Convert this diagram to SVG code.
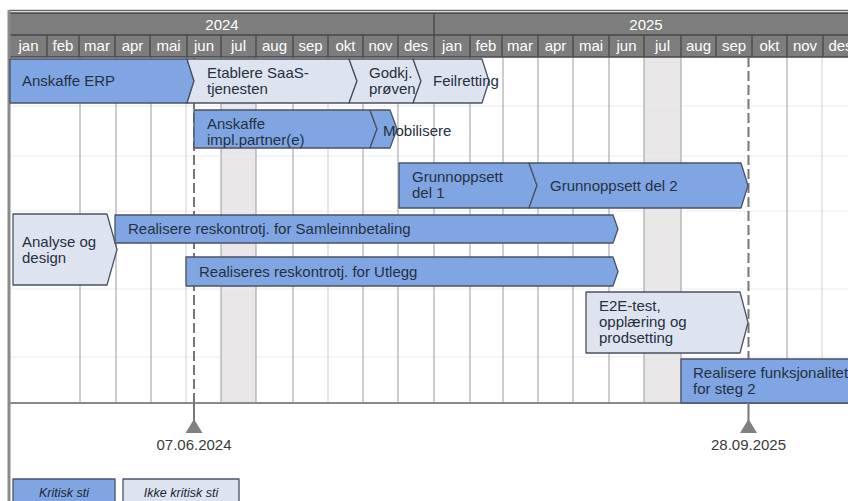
<svg xmlns="http://www.w3.org/2000/svg" width="848" height="501" viewBox="0 0 848 501">
  <style>
    text { font-family: "Liberation Sans", Arial, sans-serif; font-size: 15px; fill: #263040; }
    .hdr { fill: #7d7d7d; }
    .hdrline { stroke: #474747; stroke-width: 1.3; }
    .hdrtxt { fill: #ffffff; text-anchor: middle; font-size: 15px; }
    .vline { stroke: #9c9c9c; stroke-width: 1; }
    .vfaint { stroke: #cfcfcf; stroke-width: 1; }
    .hline { stroke: #ececec; stroke-width: 1; }
    .shade { fill: #e8e6e6; }
    .crit { fill: #7fa6e3; stroke: #4a5266; stroke-width: 1.3; stroke-linejoin: round; }
    .noncrit { fill: #dde4ef; stroke: #4a5266; stroke-width: 1.3; stroke-linejoin: round; }
    .dash { stroke: #767676; stroke-width: 2; stroke-dasharray: 10 4; fill: none; }
    .stem { stroke: #767676; stroke-width: 2; }
    .tri { fill: #808080; }
    .date { fill: #3a3a3a; text-anchor: middle; font-size: 15px; }
    .legend { font-style: italic; font-size: 12.5px; text-anchor: middle; fill: #1f2533; }
  </style>

  <rect width="848" height="501" fill="#ffffff"/>

  <!-- holiday columns (July) -->
  <rect class="shade" x="221" y="57" width="35" height="346"/>
  <rect class="shade" x="644" y="57" width="37" height="346"/>

  <!-- faint row separators -->
  <g>
    <line class="hline" x1="10" y1="106" x2="848" y2="106"/>
    <line class="hline" x1="10" y1="156" x2="848" y2="156"/>
    <line class="hline" x1="10" y1="211" x2="848" y2="211"/>
    <line class="hline" x1="10" y1="289" x2="848" y2="289"/>
    <line class="hline" x1="10" y1="357" x2="848" y2="357"/>
  </g>

  <!-- month grid in the body -->
  <g>
    <line class="vline" x1="80" y1="57" x2="80" y2="403"/>
    <line class="vline" x1="116" y1="57" x2="116" y2="403"/>
    <line class="vline" x1="151" y1="57" x2="151" y2="403"/>
    <line class="vfaint" x1="186" y1="57" x2="186" y2="403"/>
    <line class="vline" x1="221" y1="57" x2="221" y2="403"/>
    <line class="vline" x1="256" y1="57" x2="256" y2="403"/>
    <line class="vline" x1="293" y1="57" x2="293" y2="403"/>
    <line class="vfaint" x1="328" y1="57" x2="328" y2="403"/>
    <line class="vline" x1="363" y1="57" x2="363" y2="403"/>
    <line class="vline" x1="398" y1="57" x2="398" y2="403"/>
    <line class="vline" x1="434" y1="57" x2="434" y2="403"/>
    <line class="vline" x1="470" y1="57" x2="470" y2="403"/>
    <line class="vline" x1="503" y1="57" x2="503" y2="403"/>
    <line class="vline" x1="538" y1="57" x2="538" y2="403"/>
    <line class="vline" x1="573" y1="57" x2="573" y2="403"/>
    <line class="vline" x1="609" y1="57" x2="609" y2="403"/>
    <line class="vline" x1="644" y1="57" x2="644" y2="403"/>
    <line class="vline" x1="681" y1="57" x2="681" y2="403"/>
    <line class="vline" x1="787" y1="57" x2="787" y2="403"/>
    <line class="vfaint" x1="822" y1="57" x2="822" y2="403"/>
  </g>

  <!-- timeline header -->
  <g id="header">
    <line x1="9" y1="10.5" x2="848" y2="10.5" stroke="#6a6a6a" stroke-width="1.5"/>
    <rect class="hdr" x="9" y="13" width="839" height="44"/>
    <line class="hdrline" x1="9" y1="13" x2="848" y2="13"/>
    <line class="hdrline" x1="9" y1="35" x2="848" y2="35"/>
    <line class="hdrline" x1="9" y1="57" x2="848" y2="57"/>
    <line class="hdrline" x1="434" y1="13" x2="434" y2="57"/>
    <text class="hdrtxt" x="222" y="30">2024</text>
    <text class="hdrtxt" x="646" y="30">2025</text>
    <g class="hdrline">
      <line x1="47" y1="35" x2="47" y2="57"/>
      <line x1="79" y1="35" x2="79" y2="57"/>
      <line x1="115" y1="35" x2="115" y2="57"/>
      <line x1="150" y1="35" x2="150" y2="57"/>
      <line x1="187" y1="35" x2="187" y2="57"/>
      <line x1="221" y1="35" x2="221" y2="57"/>
      <line x1="256" y1="35" x2="256" y2="57"/>
      <line x1="293" y1="35" x2="293" y2="57"/>
      <line x1="328" y1="35" x2="328" y2="57"/>
      <line x1="363" y1="35" x2="363" y2="57"/>
      <line x1="398" y1="35" x2="398" y2="57"/>
      <line x1="470" y1="35" x2="470" y2="57"/>
      <line x1="502" y1="35" x2="502" y2="57"/>
      <line x1="538" y1="35" x2="538" y2="57"/>
      <line x1="573" y1="35" x2="573" y2="57"/>
      <line x1="609" y1="35" x2="609" y2="57"/>
      <line x1="644" y1="35" x2="644" y2="57"/>
      <line x1="681" y1="35" x2="681" y2="57"/>
      <line x1="716" y1="35" x2="716" y2="57"/>
      <line x1="752" y1="35" x2="752" y2="57"/>
      <line x1="787" y1="35" x2="787" y2="57"/>
      <line x1="823" y1="35" x2="823" y2="57"/>
    </g>
    <g>
      <text class="hdrtxt" x="28.5" y="51">jan</text>
      <text class="hdrtxt" x="63" y="51">feb</text>
      <text class="hdrtxt" x="97" y="51">mar</text>
      <text class="hdrtxt" x="132.5" y="51">apr</text>
      <text class="hdrtxt" x="168.5" y="51">mai</text>
      <text class="hdrtxt" x="204" y="51">jun</text>
      <text class="hdrtxt" x="238.5" y="51">jul</text>
      <text class="hdrtxt" x="274.5" y="51">aug</text>
      <text class="hdrtxt" x="310.5" y="51">sep</text>
      <text class="hdrtxt" x="345.5" y="51">okt</text>
      <text class="hdrtxt" x="380.5" y="51">nov</text>
      <text class="hdrtxt" x="416" y="51">des</text>
      <text class="hdrtxt" x="452" y="51">jan</text>
      <text class="hdrtxt" x="486" y="51">feb</text>
      <text class="hdrtxt" x="520" y="51">mar</text>
      <text class="hdrtxt" x="555.5" y="51">apr</text>
      <text class="hdrtxt" x="591" y="51">mai</text>
      <text class="hdrtxt" x="626.5" y="51">jun</text>
      <text class="hdrtxt" x="662.5" y="51">jul</text>
      <text class="hdrtxt" x="698.5" y="51">aug</text>
      <text class="hdrtxt" x="734" y="51">sep</text>
      <text class="hdrtxt" x="769.5" y="51">okt</text>
      <text class="hdrtxt" x="805" y="51">nov</text>
      <text class="hdrtxt" x="840.5" y="51">des</text>
    </g>
  </g>

  <!-- milestone markers -->
  <g id="milestones">
    <line class="dash" x1="194" y1="57" x2="194" y2="403"/>
    <line class="dash" x1="748.5" y1="57" x2="748.5" y2="403"/>
  </g>

  <!-- chart bottom and left frame -->
  <line x1="9" y1="403" x2="848" y2="403" stroke="#8a8a8a" stroke-width="2"/>
  <line x1="9" y1="10" x2="9" y2="501" stroke="#8a8a8a" stroke-width="3"/>

  <!-- activities -->
  <g id="anskaffe-erp">
    <path class="crit" d="M10,59 H187 L194,81 L187,103 H10 Z"/>
    <text x="22" y="86">Anskaffe ERP</text>
  </g>
  <g id="etablere-saas">
    <path class="noncrit" d="M187,59 H349 L357,81 L349,103 H187 L194,81 Z"/>
    <text x="207" y="78">Etablere SaaS-</text>
    <text x="207" y="94">tjenesten</text>
  </g>
  <g id="godkj-proven">
    <path class="noncrit" d="M349,59 H413 L421,81 L413,103 H349 L357,81 Z"/>
    <text x="369" y="78">Godkj.</text>
    <text x="369" y="94">prøven</text>
  </g>
  <g id="feilretting">
    <path class="noncrit" d="M413,59 H482 L489,81 L482,103 H413 L421,81 Z"/>
    <text x="433" y="86">Feilretting</text>
  </g>

  <g id="anskaffe-impl">
    <path class="crit" d="M194,110 H370 L377,129 L370,148 H194 Z"/>
    <text x="207" y="129">Anskaffe</text>
    <text x="207" y="145">impl.partner(e)</text>
  </g>
  <g id="mobilisere">
    <path class="crit" d="M370,110 H390 L397,129 L390,148 H370 L377,129 Z"/>
    <text x="383" y="136">Mobilisere</text>
  </g>

  <g id="grunnoppsett-1">
    <path class="crit" d="M399,163 H529 L537,185.5 L529,208 H399 Z"/>
    <text x="412" y="182">Grunnoppsett</text>
    <text x="412" y="198">del 1</text>
  </g>
  <g id="grunnoppsett-2">
    <path class="crit" d="M529,163 H741 L748,185.5 L741,208 H529 L537,185.5 Z"/>
    <text x="550" y="191">Grunnoppsett del 2</text>
  </g>

  <g id="analyse-design">
    <path class="noncrit" d="M13,214 H107 L117,249.5 L107,285 H13 Z"/>
    <text x="22" y="247">Analyse og</text>
    <text x="22" y="263">design</text>
  </g>
  <g id="samleinnbetaling">
    <path class="crit" d="M115,215 H613 L618,229 L613,243 H115 Z"/>
    <text x="128" y="234">Realisere reskontrotj. for Samleinnbetaling</text>
  </g>
  <g id="utlegg">
    <path class="crit" d="M186,257 H613 L618,271.5 L613,286 H186 Z"/>
    <text x="199" y="277">Realiseres reskontrotj. for Utlegg</text>
  </g>

  <g id="e2e-test">
    <path class="noncrit" d="M586,292 H740 L748,322.5 L740,353 H586 Z"/>
    <text x="599" y="311">E2E-test,</text>
    <text x="599" y="327">opplæring og</text>
    <text x="599" y="343">prodsetting</text>
  </g>

  <g id="funksjonalitet-steg2">
    <path class="crit" d="M681,359 H860 V403 H681 Z"/>
    <text x="693" y="378">Realisere funksjonalitet</text>
    <text x="693" y="394">for steg 2</text>
  </g>

  <!-- milestone dates -->
  <g id="milestone-start">
    <line class="stem" x1="194" y1="403" x2="194" y2="422"/>
    <path class="tri" d="M194,419 L202.5,433 H185.5 Z"/>
    <text class="date" x="194" y="450">07.06.2024</text>
  </g>
  <g id="milestone-end">
    <line class="stem" x1="748.5" y1="403" x2="748.5" y2="422"/>
    <path class="tri" d="M748.5,419 L757,433 H740 Z"/>
    <text class="date" x="748.5" y="450">28.09.2025</text>
  </g>

  <!-- legend -->
  <g id="legend-critical">
    <rect class="crit" x="13" y="479" width="102" height="26"/>
    <text class="legend" x="64" y="497">Kritisk sti</text>
  </g>
  <g id="legend-noncritical">
    <rect class="noncrit" x="123" y="479" width="116" height="26"/>
    <text class="legend" x="181" y="497">Ikke kritisk sti</text>
  </g>
</svg>
